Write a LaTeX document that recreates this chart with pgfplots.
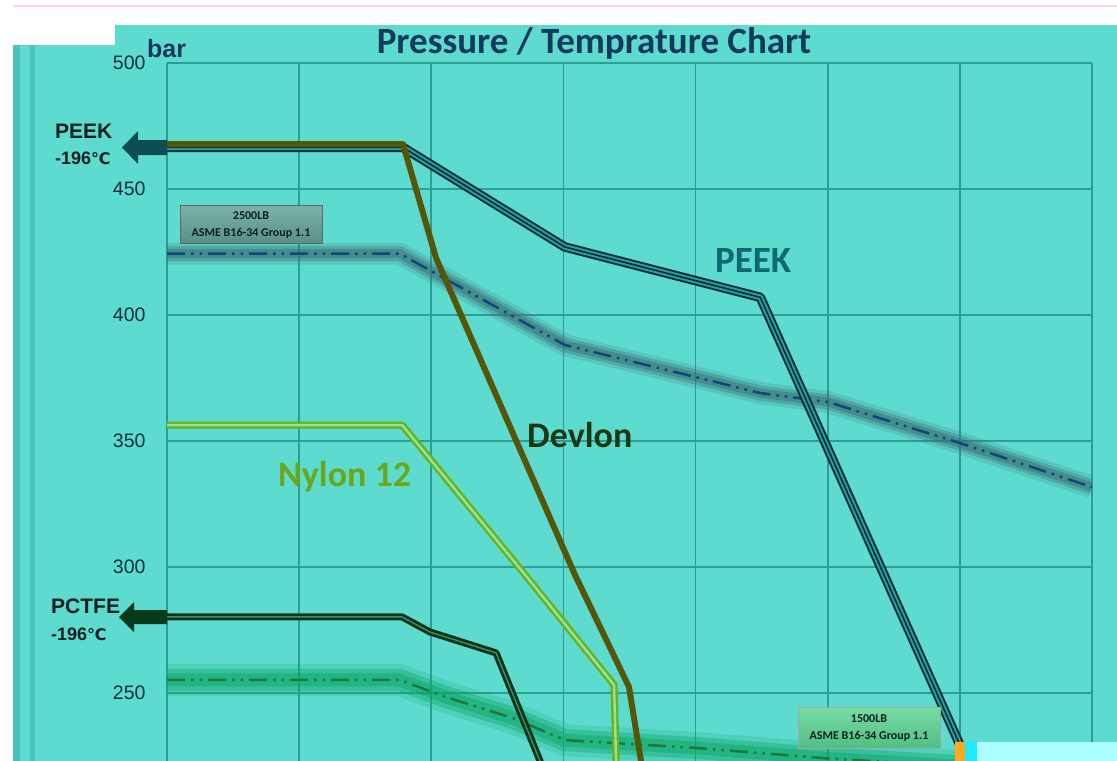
\documentclass[border=0pt]{standalone}
\usepackage{fontspec}
\usepackage{pgfplots}
\pgfplotsset{compat=1.18}
\usepackage{pgfplotstable}
\setmainfont{Liberation Sans}
\newfontfamily\carlito{Carlito}
\newfontfamily\dejavu{DejaVu Sans}

\definecolor{bgteal}{RGB}{94,219,207}
\definecolor{stripc}{RGB}{72,196,186}
\definecolor{gridc}{RGB}{45,158,150}
\definecolor{ticktxt}{RGB}{10,50,54}
\definecolor{titlec}{RGB}{18,58,94}
\definecolor{peekdark}{RGB}{8,48,52}
\definecolor{peekmid}{RGB}{40,160,162}
\definecolor{peektxt}{RGB}{15,104,115}
\definecolor{devlonc}{RGB}{86,86,8}
\definecolor{devlontxt}{RGB}{28,56,16}
\definecolor{nylonc}{RGB}{104,178,28}
\definecolor{nylonin}{RGB}{150,225,160}
\definecolor{nylontxt}{RGB}{104,168,26}
\definecolor{pctfec}{RGB}{8,52,26}
\definecolor{pctfein}{RGB}{70,140,100}
\definecolor{ddone}{RGB}{12,72,125}
\definecolor{shone}{RGB}{60,105,110}
\definecolor{ddtwo}{RGB}{30,120,55}
\definecolor{shtwo}{RGB}{10,165,100}
\definecolor{arrowpeek}{RGB}{10,78,80}
\definecolor{arrowpctfe}{RGB}{6,58,26}
\definecolor{labtxt}{RGB}{15,30,30}
\definecolor{boxone}{RGB}{125,178,168}
\definecolor{boxoneb}{RGB}{88,145,135}
\definecolor{boxtwo}{RGB}{120,220,165}
\definecolor{boxtwob}{RGB}{80,190,130}
\definecolor{palecyan}{RGB}{172,255,255}
\definecolor{brightcyan}{RGB}{30,235,255}
\definecolor{orangeart}{RGB}{255,170,30}

\pgfplotstableread{
x y
0 466.5
1.786 466.5
3.01 427
4.49 407
6.0 229.4
6.12 215
}\peek
\pgfplotstableread{
x y
0 467.8
1.786 467.8
2.036 422.6
3.088 296.8
3.496 252.4
3.587 223
3.62 211
}\devlon
\pgfplotstableread{
x y
0 356.3
1.78 356.3
2.724 296
3.383 253.2
3.405 211
}\nylon
\pgfplotstableread{
x y
0 280.2
1.778 280.2
1.99 274.2
2.49 265.9
2.823 223
2.86 215
}\pctfe
\pgfplotstableread{
x y
0 424.4
1.76 424.4
3.01 388.1
4.03 375
4.49 369
5.0 365.5
6.0 349.2
7.0 331.7
}\gradeA
\pgfplotstableread{
x y
0 255.2
1.76 255.2
2.11 248.4
2.62 240
3.01 231.3
4.0 228.2
5.0 224
6.0 221
7.0 218
}\gradeB

\begin{document}
\begin{tikzpicture}
\useasboundingbox (0,0) rectangle (1117bp,-761bp);
\begin{scope}[x=1bp,y=-1bp]
\fill[white] (0,0) rectangle (1117,761);
\fill[bgteal] (13,25) rectangle (1117,761);
\fill[stripc] (13,45) rectangle (20,761);
\fill[stripc] (30,45) rectangle (35,761);
\fill[white] (13,25) rectangle (115,45);
\draw[red!15, line width=1.5] (13,6) -- (1117,6);
\end{scope}

\begin{axis}[
  at={(167bp,-761bp)}, anchor=south west,
  scale only axis, width=925bp, height=698bp,
  xmin=0, xmax=7, ymin=223, ymax=500,
  xtick={0,1,...,7}, xticklabels={},
  ytick={250,300,...,500},
  grid=major, grid style={draw=gridc, line width=1.6bp},
  axis line style={draw=none},
  major tick length=0pt,
  /pgf/number format/assume math mode=true,
  /pgf/number format/1000 sep={},
  yticklabel style={font=\fontsize{19.5bp}{19.5bp}\selectfont, text=ticktxt, xshift=-18bp},
  clip=true,
]
% 2500LB shadow and line
\addplot[shone, line width=22bp, opacity=0.18, line join=round] table {\gradeA};
\addplot[shone, line width=15bp, opacity=0.3, line join=round] table {\gradeA};
\addplot[shone, line width=9bp, opacity=0.45, line join=round] table {\gradeA};
\addplot[ddone, line width=2.5bp, line join=round, dash pattern=on 18bp off 6bp on 2.5bp off 6bp on 2.5bp off 6bp] table {\gradeA};
% 1500LB shadow and line
\addplot[shtwo, line width=32bp, opacity=0.18, line join=round] table {\gradeB};
\addplot[shtwo, line width=22bp, opacity=0.35, line join=round] table {\gradeB};
\addplot[shtwo, line width=13bp, opacity=0.45, line join=round] table {\gradeB};
\addplot[ddtwo, line width=2.5bp, line join=round, dash pattern=on 18bp off 6bp on 2.5bp off 6bp on 2.5bp off 6bp] table {\gradeB};
% PCTFE
\addplot[draw=pctfec, line width=2.8bp, double=pctfein, double distance=1.4bp, line join=round] table {\pctfe};
% Nylon 12
\addplot[draw=nylonc, line width=2.4bp, double=nylonin, double distance=2.4bp, line join=round] table {\nylon};
% PEEK (outer double line and dark core)
\addplot[draw=peekdark, line width=2bp, double=peekmid, double distance=5.5bp, line join=round] table {\peek};
\addplot[draw=peekdark, line width=1.6bp, line join=round] table {\peek};
% Devlon
\addplot[draw=devlonc, line width=6bp, line join=round] table {\devlon};
\end{axis}

\begin{scope}[x=1bp,y=-1bp]
% arrows
\fill[arrowpeek] (167,140) -- (138,140) -- (138,131) -- (122,147.5) -- (138,164) -- (138,155) -- (167,155) -- cycle;
\fill[arrowpctfe] (167,610) -- (134,610) -- (134,602) -- (119,617) -- (134,632) -- (134,624) -- (167,624) -- cycle;
% left labels
\node[anchor=base west, inner sep=0, text=labtxt, font=\fontsize{21bp}{21bp}\selectfont\bfseries] at (55,138) {PEEK};
\node[anchor=base west, inner sep=0, text=labtxt, font=\fontsize{18bp}{18bp}\selectfont\bfseries] at (55,164) {-196{\dejavu\fontsize{16bp}{16bp}\selectfont ℃}};
\node[anchor=base west, inner sep=0, text=labtxt, font=\fontsize{21bp}{21bp}\selectfont\bfseries] at (51,613) {PCTFE};
\node[anchor=base west, inner sep=0, text=labtxt, font=\fontsize{18bp}{18bp}\selectfont\bfseries] at (51,640) {-196{\dejavu\fontsize{16bp}{16bp}\selectfont ℃}};
\node[anchor=base west, inner sep=0, text=titlec, font=\fontsize{25bp}{25bp}\selectfont\bfseries] at (147,57) {bar};
% title
\node[anchor=base, inner sep=0, text=titlec, font=\carlito\bfseries\fontsize{37bp}{37bp}\selectfont] at (594,53) {Pressure / Temprature Chart};
% curve labels
\node[anchor=base west, inner sep=0, text=peektxt, font=\carlito\bfseries\fontsize{37bp}{37bp}\selectfont] at (715,272) {PEEK};
\node[anchor=base west, inner sep=0, text=devlontxt, font=\carlito\bfseries\fontsize{36bp}{36bp}\selectfont] at (527,447) {Devlon};
\node[anchor=base west, inner sep=0, text=nylontxt, font=\carlito\bfseries\fontsize{36bp}{36bp}\selectfont] at (278,486) {Nylon 12};
% grade boxes
\draw[draw=black!60, line width=1bp, top color=boxone, bottom color=boxoneb] (180,205) rectangle (322,243);
\node[align=center, inner sep=0, text=labtxt, font=\carlito\bfseries\fontsize{12bp}{17bp}\selectfont] at (251,225) {2500LB\\ASME B16-34 Group 1.1};
\draw[draw=black!35, line width=1bp, top color=boxtwo, bottom color=boxtwob] (798,707) rectangle (940,748);
\node[align=center, inner sep=0, text=labtxt, font=\carlito\bfseries\fontsize{12bp}{17bp}\selectfont] at (869,728) {1500LB\\ASME B16-34 Group 1.1};
% bottom right artefact
\fill[orangeart] (955,742) rectangle (965,761);
\fill[brightcyan] (965,742) rectangle (977,761);
\fill[palecyan] (977,742) rectangle (1117,761);
\end{scope}
\end{tikzpicture}
\end{document}
